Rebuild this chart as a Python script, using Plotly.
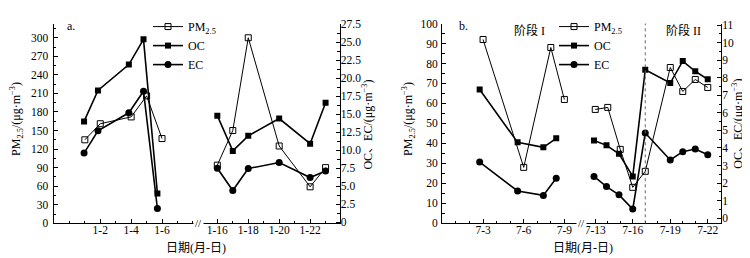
import plotly.graph_objects as go

W, H = 750, 258

# ---------------- data: panel a (January) ----------------
a_pm_days_1 = [1, 2, 4, 5, 6]
a_pm_1 = [135, 161, 172, 206, 137]
a_pm_days_2 = [16, 17, 18, 20, 22, 23]
a_pm_2 = [94, 150, 300, 125, 59, 90]
a_carbon_days_1 = [0.95, 1.85, 3.85, 4.8, 5.7]
a_oc_1 = [14.0, 18.3, 21.9, 25.4, 4.0]
a_ec_1 = [9.6, 12.7, 15.2, 18.2, 1.9]
a_carbon_days_2 = [16, 17, 18, 20, 22, 23]
a_oc_2 = [14.8, 9.9, 12.0, 14.4, 10.9, 16.6]
a_ec_2 = [7.5, 4.4, 7.45, 8.3, 6.2, 7.1]

# ---------------- data: panel b (July) ----------------
b_pm_days_1 = [3, 6, 8, 9]
b_pm_1 = [92, 28, 88, 62]
b_carbon_days_1 = [2.75, 5.55, 7.45, 8.4]
b_oc_1 = [7.33, 4.32, 4.04, 4.55]
b_ec_1 = [3.2, 1.55, 1.3, 2.28]
b_pm_days_2 = [13, 14, 15, 16, 17, 19, 20, 21, 22]
b_pm_2 = [57, 58, 37, 18, 26, 78, 66, 72, 68]
b_carbon_days_2 = [12.9, 13.9, 14.9, 16, 17, 19, 20, 21, 22]
b_oc_2 = [4.43, 4.15, 3.67, 2.38, 8.46, 7.7, 8.95, 8.37, 7.91]
b_ec_2 = [2.38, 1.8, 1.33, 0.52, 4.85, 3.32, 3.79, 3.94, 3.61]
b_stage_split_day = 17

# ---------------- ticks ----------------
a_xticks_1 = [2, 4, 6]
a_xticks_2 = [16, 18, 20, 22]
b_xticks_1 = [3, 6, 9]
b_xticks_2 = [13, 16, 19, 22]
a_left_ticks = list(range(0, 301, 30))
a_right_ticks = [i * 2.5 for i in range(12)]
b_left_ticks = list(range(0, 101, 10))
b_right_ticks = list(range(0, 12))


def px(x):
    return x / W


def py(y):
    return 1 - y / H


SERIF = "Liberation Serif, Times New Roman, Noto Sans CJK SC, serif"
TICKFONT = dict(family=SERIF, size=11.5, color="black")
Y_DOM = [py(219.5), py(10)]

fig = go.Figure()

pm_style = dict(mode="lines+markers", line=dict(color="black", width=1),
                marker=dict(symbol="square-open", size=6, color="black", line=dict(width=1, color="black")))
oc_style = dict(mode="lines+markers", line=dict(color="black", width=1.6),
                marker=dict(symbol="square", size=6, color="black"))
ec_style = dict(mode="lines+markers", line=dict(color="black", width=1.6),
                marker=dict(symbol="circle", size=7, color="black"))


def add(x, y, xa, ya, style, name, legend, show):
    fig.add_trace(go.Scatter(x=x, y=y, xaxis=xa, yaxis=ya, name=name, legend=legend,
                             showlegend=show, **style))


PM_NAME = "PM<sub>2.5</sub>"
# panel a
add(a_pm_days_1, a_pm_1, "x", "y", pm_style, PM_NAME, "legend", True)
add(a_carbon_days_1, a_oc_1, "x", "y2", oc_style, "OC", "legend", True)
add(a_carbon_days_1, a_ec_1, "x", "y2", ec_style, "EC", "legend", True)
add(a_pm_days_2, a_pm_2, "x2", "y", pm_style, PM_NAME, "legend", False)
add(a_carbon_days_2, a_oc_2, "x2", "y2", oc_style, "OC", "legend", False)
add(a_carbon_days_2, a_ec_2, "x2", "y2", ec_style, "EC", "legend", False)
# panel b
add(b_pm_days_1, b_pm_1, "x3", "y3", pm_style, PM_NAME, "legend2", True)
add(b_carbon_days_1, b_oc_1, "x3", "y4", oc_style, "OC", "legend2", True)
add(b_carbon_days_1, b_ec_1, "x3", "y4", ec_style, "EC", "legend2", True)
add(b_pm_days_2, b_pm_2, "x4", "y3", pm_style, PM_NAME, "legend2", False)
add(b_carbon_days_2, b_oc_2, "x4", "y4", oc_style, "OC", "legend2", False)
add(b_carbon_days_2, b_ec_2, "x4", "y4", ec_style, "EC", "legend2", False)


def xax(dom, rng, ticks, month, anchor):
    return dict(domain=[px(dom[0]), px(dom[1])], range=rng, anchor=anchor,
                tickmode="array", tickvals=ticks, ticktext=[f"{month}-{d}" for d in ticks],
                ticks="inside", ticklen=4, tickcolor="black", tickwidth=1,
                minor=dict(ticks="inside", ticklen=2.5, tick0=0, dtick=1, tickcolor="black"),
                showline=True, linecolor="black", linewidth=1, showgrid=False, zeroline=False,
                tickfont=TICKFONT, ticklabelstandoff=-4)


def yax(rng, ticks, labels, minor, anchor, side="left", overlaying=None, standoff=1):
    d = dict(domain=Y_DOM, range=rng, anchor=anchor, side=side,
             tickmode="array", tickvals=ticks, ticktext=labels,
             ticks="inside", ticklen=4, tickcolor="black", tickwidth=1,
             minor=dict(ticks="inside", ticklen=2.5, tick0=0, dtick=minor, tickcolor="black"),
             showline=True, linecolor="black", linewidth=1, showgrid=False, zeroline=False,
             tickfont=TICKFONT, ticklabelstandoff=standoff)
    if overlaying:
        d["overlaying"] = overlaying
    return d


a_right_labels = ["0" if v == 0 else f"{v:.1f}" for v in a_right_ticks]

fig.update_layout(
    width=W, height=H, margin=dict(l=0, r=0, t=0, b=0),
    paper_bgcolor="white", plot_bgcolor="white",
    xaxis=xax([45.5, 188], [-1.03, 8.2], a_xticks_1, 1, "y"),
    xaxis2=xax([192, 331.5], [14.88, 23.9], a_xticks_2, 1, "y"),
    xaxis3=xax([434, 571], [-0.03, 10.08], b_xticks_1, 7, "y3"),
    xaxis4=xax([576, 713], [12.1, 23.06], b_xticks_2, 7, "y3"),
    yaxis=yax([0, 323], a_left_ticks, [str(v) for v in a_left_ticks], 15, "x", standoff=2),
    yaxis2=yax([-0.15, 27.6], a_right_ticks, a_right_labels, 1.25, "x2", "right", "y", standoff=-2),
    yaxis3=yax([0, 100], b_left_ticks, [str(v) for v in b_left_ticks], 5, "x3", standoff=1),
    yaxis4=yax([-0.29, 11.09], b_right_ticks, [str(v) for v in b_right_ticks], 0.5, "x4", "right", "y3",
               standoff=-2),
    legend=dict(x=px(140), y=py(-2), xanchor="left", yanchor="top", bgcolor="rgba(0,0,0,0)",
                font=dict(family=SERIF, size=12, color="black"), tracegroupgap=0),
    legend2=dict(x=px(546), y=py(-2), xanchor="left", yanchor="top", bgcolor="rgba(0,0,0,0)",
                 font=dict(family=SERIF, size=12, color="black"), tracegroupgap=0),
)

fig.add_shape(type="line", xref="x4", yref="paper", x0=b_stage_split_day, x1=b_stage_split_day,
              y0=Y_DOM[0], y1=Y_DOM[1], line=dict(color="#666666", width=1, dash="dot"))

UNIT = "/(μg·m<sup>−3</sup>)"
annots = [
    (9, 110, "PM<sub>2.5</sub>" + UNIT, -90, 12),
    (360, 116, "OC、EC" + UNIT, -90, 12),
    (401, 110, "PM<sub>2.5</sub>" + UNIT, -90, 12),
    (730, 115, "OC、EC" + UNIT, -90, 12),
    (188, 245, "日期(月-日)", 0, 12),
    (575, 245, "日期(月-日)", 0, 12),
    (63, 13, "a.", 0, 12),
    (455, 13, "b.", 0, 12),
    (521, 17, "阶段 I", 0, 12),
    (675, 17, "阶段 II", 0, 12),
    (190, 219, "//", 0, 11),
    (573.5, 219, "//", 0, 11),
]
for x, y, t, ang, sz in annots:
    fig.add_annotation(x=px(x), y=py(y), xref="paper", yref="paper", text=t, showarrow=False,
                       textangle=ang, xanchor="center", yanchor="middle",
                       font=dict(family=SERIF, size=sz, color="black"), bgcolor="white" if t == "//" else None)

fig.write_html("out.html")
